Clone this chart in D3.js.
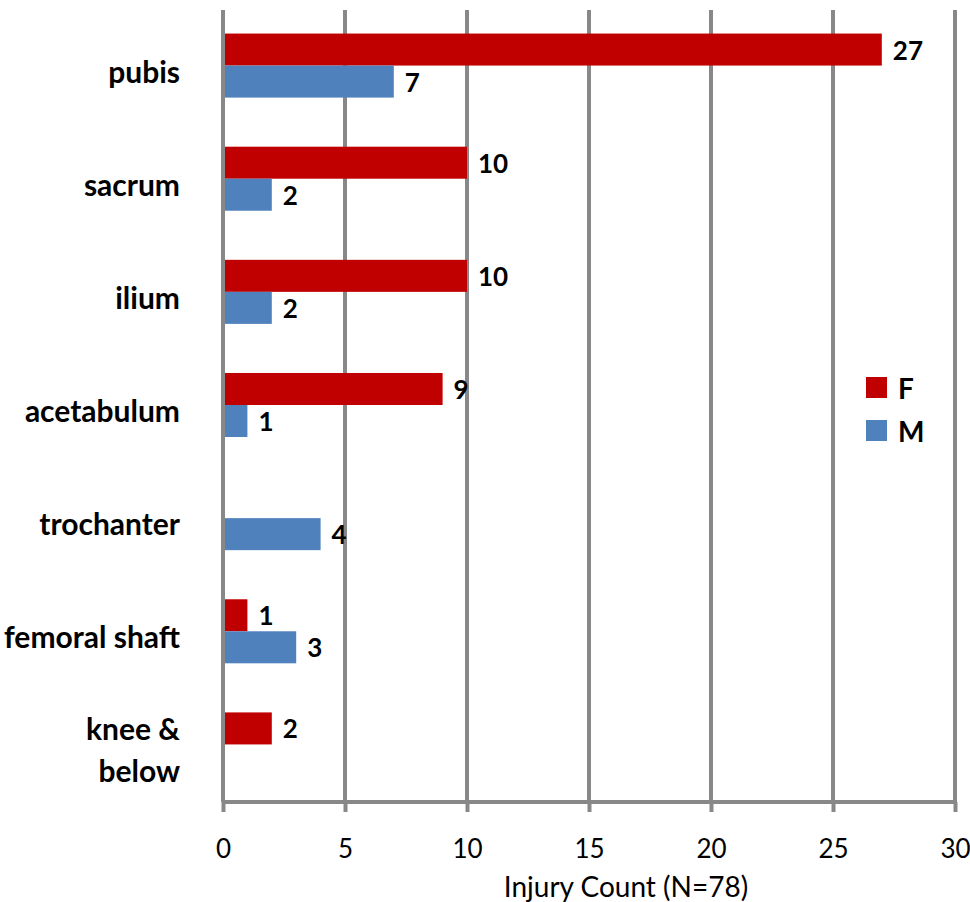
<!DOCTYPE html>
<html>
<head>
<meta charset="utf-8">
<script src="https://cdn.jsdelivr.net/npm/d3@7"></script>
<style>
  html, body { margin: 0; padding: 0; background: #fff; }
  svg { display: block; }
  text { font-family: Lato, "Open Sans", sans-serif; fill: #000; }
</style>
</head>
<body>
<svg id="chart" width="970" height="902"></svg>
<script>
const categories = ["pubis", "sacrum", "ilium", "acetabulum", "trochanter", "femoral shaft", "knee & below"];
const seriesNames = ["F", "M"];
const valuesF = [27, 10, 10, 9, null, 1, 2];
const valuesM = [7, 2, 2, 1, 4, 3, null];
const xTicks = [0, 5, 10, 15, 20, 25, 30];
const xTitle = "Injury Count (N=78)";
const colors = { F: "#C00000", M: "#4F81BD" };

const svg = d3.select("#chart");
const x = d3.scaleLinear().domain([0, 30]).range([223, 955]);
const y = d3.scaleBand().domain(categories).range([9, 801]).paddingInner(0.434).paddingOuter(0.217);
const ySub = d3.scaleBand().domain(seriesNames).range([0, y.bandwidth()]);
const gridColor = "#888888";
const plotTop = 10, axisY = 802;

// gridlines (excluding 0, drawn after bars)
svg.append("g").selectAll("line").data(xTicks.filter(t => t !== 0)).join("line")
  .attr("x1", d => x(d)).attr("x2", d => x(d))
  .attr("y1", plotTop).attr("y2", axisY)
  .attr("stroke", gridColor).attr("stroke-width", 4);

const rows = [];
categories.forEach((c, i) => {
  rows.push({ cat: c, s: "F", v: valuesF[i] });
  rows.push({ cat: c, s: "M", v: valuesM[i] });
});
const present = rows.filter(r => r.v !== null && r.v !== undefined);

svg.append("g").selectAll("rect").data(present).join("rect")
  .attr("x", x(0))
  .attr("y", d => y(d.cat) + ySub(d.s))
  .attr("width", d => x(d.v) - x(0))
  .attr("height", ySub.bandwidth())
  .attr("fill", d => colors[d.s]);

svg.append("g").selectAll("text").data(present).join("text")
  .attr("x", d => x(d.v) + 11)
  .attr("y", d => y(d.cat) + ySub(d.s) + ySub.bandwidth() / 2)
  .attr("dominant-baseline", "central")
  .attr("font-size", 26).attr("font-weight", "bold")
  .text(d => d.v);

// x axis via d3
const axis = d3.axisBottom(x).tickValues(xTicks).tickSize(10).tickPadding(28).tickFormat(d3.format("d"));
const gAxis = svg.append("g").attr("transform", `translate(0,${axisY})`).call(axis);
gAxis.select(".domain").attr("stroke", gridColor).attr("stroke-width", 4)
  .attr("d", `M${x(0)},0H${x(30)}`);
gAxis.selectAll(".tick line").attr("stroke", gridColor).attr("stroke-width", 4);
gAxis.selectAll(".tick text").attr("font-size", 26).attr("font-family", "Lato, sans-serif").attr("fill", "#000");

// zero line (category axis)
svg.append("line").attr("x1", x(0)).attr("x2", x(0)).attr("y1", plotTop).attr("y2", axisY)
  .attr("stroke", gridColor).attr("stroke-width", 4);

// category labels
const labelLines = c => c === "knee & below" ? ["knee &", "below"] : [c];
const cl = svg.append("g").selectAll("text").data(categories).join("text")
  .attr("text-anchor", "end")
  .attr("font-size", 30).attr("font-weight", "bold");
cl.each(function (c) {
  const lines = labelLines(c);
  const cy = y(c) + y.bandwidth() / 2 + 5;
  const lh = 42;
  d3.select(this).selectAll("tspan").data(lines).join("tspan")
    .attr("x", 180)
    .attr("y", (d, i) => cy + (i - (lines.length - 1) / 2) * lh)
    .attr("dominant-baseline", "central")
    .text(d => d);
});

// axis title
svg.append("text").attr("x", 626).attr("y", 886).attr("text-anchor", "middle")
  .attr("dominant-baseline", "central").attr("font-size", 28).text(xTitle);

// legend
const lg = svg.append("g").selectAll("g").data(seriesNames).join("g")
  .attr("transform", (d, i) => `translate(866,${377 + i * 43})`);
lg.append("rect").attr("width", 21).attr("height", 21).attr("fill", d => colors[d]);
lg.append("text").attr("x", 32).attr("y", 11).attr("dominant-baseline", "central")
  .attr("font-size", 28).attr("font-weight", "bold").text(d => d);
</script>
</body>
</html>
